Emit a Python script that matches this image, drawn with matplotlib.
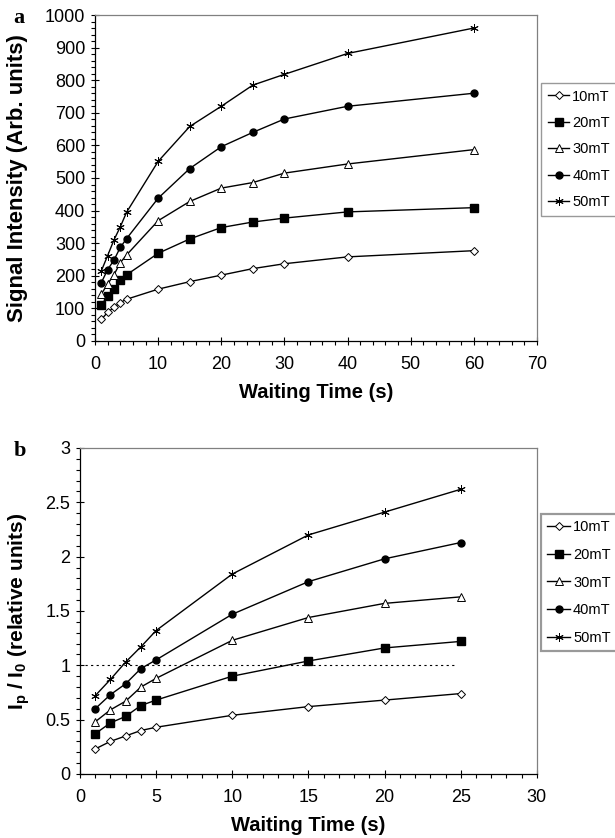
import numpy as np
import matplotlib
matplotlib.use("Agg")
import matplotlib.pyplot as plt
from matplotlib.ticker import MultipleLocator, FormatStrFormatter

plt.rcParams['font.family'] = ['Liberation Sans', 'DejaVu Sans']
plt.rcParams['mathtext.fontset'] = 'custom'
plt.rcParams['mathtext.rm'] = 'Liberation Sans'
plt.rcParams['mathtext.bf'] = 'Liberation Sans:bold'

labels = ["10mT", "20mT", "30mT", "40mT", "50mT"]

# panel a
time_a = [1, 2, 3, 4, 5, 10, 15, 20, 25, 30, 40, 60]
sig_10 = [66, 88, 103, 118, 128, 159, 182, 202, 222, 237, 258, 277]
sig_20 = [111, 137, 159, 186, 203, 269, 313, 348, 365, 377, 396, 409]
sig_30 = [144, 175, 203, 240, 264, 369, 428, 469, 486, 515, 543, 587]
sig_40 = [179, 219, 248, 287, 314, 438, 529, 596, 640, 681, 720, 760]
sig_50 = [215, 262, 310, 350, 395, 551, 658, 720, 785, 818, 882, 960]

# panel b
time_b = [1, 2, 3, 4, 5, 10, 15, 20, 25]
rel_10 = [0.23, 0.30, 0.35, 0.40, 0.43, 0.54, 0.62, 0.68, 0.74]
rel_20 = [0.37, 0.47, 0.53, 0.63, 0.68, 0.90, 1.04, 1.16, 1.22]
rel_30 = [0.48, 0.59, 0.67, 0.80, 0.88, 1.23, 1.44, 1.57, 1.63]
rel_40 = [0.60, 0.73, 0.83, 0.97, 1.05, 1.47, 1.77, 1.98, 2.13]
rel_50 = [0.72, 0.87, 1.03, 1.17, 1.32, 1.84, 2.20, 2.41, 2.62]
ref_x = [0.3, 24.7]
ref_y = [1, 1]

styles = [
    dict(marker='D', mfc='white', mec='black', ms=4.5, mew=0.7),
    dict(marker='s', mfc='black', mec='black', ms=5.5),
    dict(marker='^', mfc='white', mec='black', ms=6, mew=0.7),
    dict(marker='o', mfc='black', mec='black', ms=5),
    dict(marker=(6, 2, 0), mfc='none', mec='black', ms=6, mew=0.7),
]


def style_axes(ax, xmax, xmaj, xmin, ymax, ymaj, ymin):
    ax.set_xlim(0, xmax)
    ax.set_ylim(0, ymax)
    ax.xaxis.set_major_locator(MultipleLocator(xmaj))
    ax.xaxis.set_minor_locator(MultipleLocator(xmin))
    ax.yaxis.set_major_locator(MultipleLocator(ymaj))
    ax.yaxis.set_minor_locator(MultipleLocator(ymin))
    ax.yaxis.set_major_formatter(FormatStrFormatter('%g'))
    ax.tick_params(which='major', direction='inout', length=6, width=0.8,
                   labelsize=13, pad=4)
    ax.tick_params(which='minor', direction='out', length=3, width=0.8)
    ax.tick_params(axis='x', pad=8)
    for s in ['top', 'right']:
        ax.spines[s].set_color('#808080')
    for s in ['left', 'bottom']:
        ax.spines[s].set_color('black')
    for s in ax.spines.values():
        s.set_linewidth(0.9)
    ax.set_xlabel("Waiting Time (s)", fontsize=14.5, fontweight='bold', labelpad=7)


fig = plt.figure(figsize=(6.15, 8.38), dpi=100)

ax1 = fig.add_axes([0.1545, 0.5931, 0.7187, 0.389])
for ys, lab, st in zip([sig_10, sig_20, sig_30, sig_40, sig_50], labels, styles):
    ax1.plot(time_a, ys, color='black', lw=1.0, label=lab, **st)
style_axes(ax1, 70, 10, 2, 1000, 100, 20)
ax1.set_ylabel("Signal Intensity (Arb. units)", fontsize=16, fontweight='bold')
ax1.yaxis.set_label_coords(-0.152, 0.5)
leg1 = ax1.legend(loc='upper left', bbox_to_anchor=(0.8797, 0.901), bbox_transform=fig.transFigure,
                  fontsize=10.5, frameon=True, fancybox=False, handlelength=1.5,
                  handletextpad=0.2, labelspacing=0.85, borderpad=0.45, borderaxespad=0)
leg1.get_frame().set_edgecolor('#808080')
leg1.get_frame().set_linewidth(1.0)
fig.text(0.022, 0.978, "a", fontsize=16, fontweight='bold', family='Liberation Serif', va='center')

ax2 = fig.add_axes([0.130, 0.0764, 0.743, 0.389])
for ys, lab, st in zip([rel_10, rel_20, rel_30, rel_40, rel_50], labels, styles):
    ax2.plot(time_b, ys, color='black', lw=1.0, label=lab, **st)
ax2.plot(ref_x, ref_y, color='black', lw=0.8, ls=(0, (2, 3)))
style_axes(ax2, 30, 5, 1, 3, 0.5, 0.1)
ax2.set_ylabel(r"I$_{\mathbf{p}}$ / I$_{\mathbf{0}}$ (relative units)", fontsize=15,
               fontweight='bold')
ax2.yaxis.set_label_coords(-0.105, 0.5)
h, l = ax2.get_legend_handles_labels()
leg2 = ax2.legend(h[:5], l[:5], loc='upper left', bbox_to_anchor=(0.8797, 0.3866),
                  bbox_transform=fig.transFigure, fontsize=10.5, frameon=True, fancybox=False,
                  handlelength=1.6, handletextpad=0.2, labelspacing=0.95, borderpad=0.4,
                  borderaxespad=0)
leg2.get_frame().set_edgecolor('#808080')
leg2.get_frame().set_linewidth(1.6)
fig.text(0.022, 0.462, "b", fontsize=16, fontweight='bold', family='Liberation Serif', va='center')

fig.savefig("out.png", dpi=100)
